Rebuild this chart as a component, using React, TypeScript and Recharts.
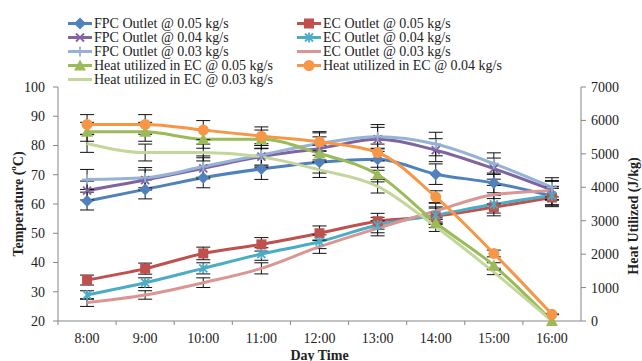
import React from "react";
import { LineChart, Line, XAxis, YAxis, ErrorBar } from "recharts";

const times = ["8:00", "9:00", "10:00", "11:00", "12:00", "13:00", "14:00", "15:00", "16:00"];

// temperatures (°C), left axis
const fpc05 = [61, 65, 69, 72, 74.3, 75.3, 70.2, 67.2, 62.7];
const fpc04 = [64.6, 68.2, 72.2, 76.2, 79, 82.1, 78.4, 72.1, 64.8];
const fpc03 = [68.4, 69, 72.8, 76.8, 80.7, 83, 80.5, 73.8, 65.7];
const ec05 = [34, 37.9, 43.1, 46.2, 50, 54.1, 55.8, 58.9, 62.2];
const ec04 = [28.9, 33.1, 38, 42.9, 47.1, 52.8, 56.2, 59.9, 62.9];
const ec03 = [26.3, 28.9, 33.1, 38, 45.4, 51.7, 57.6, 63.2, 64.5];

// heat utilized (J/kg), right axis
const heat05 = [5660, 5660, 5440, 5440, 5010, 4380, 2940, 1660, 0];
const heat04 = [5880, 5880, 5710, 5530, 5360, 5040, 3710, 2020, 200];
const heat03 = [5310, 5040, 5040, 4910, 4520, 4030, 2820, 1460, 0];

const tempTicks = [20, 30, 40, 50, 60, 70, 80, 90, 100];
const heatTicks = [0, 1000, 2000, 3000, 4000, 5000, 6000, 7000];

const ERR_PCT = 0.05;

type Shape = "diamond" | "square" | "x" | "star" | "plus" | "none" | "triangle" | "circle";

const series: { key: string; name: string; values: number[]; color: string; shape: Shape; axis: string }[] = [
  { key: "fpc05", name: "FPC Outlet @ 0.05 kg/s", values: fpc05, color: "#4F81BD", shape: "diamond", axis: "t" },
  { key: "ec05", name: "EC Outlet @ 0.05 kg/s", values: ec05, color: "#C0504D", shape: "square", axis: "t" },
  { key: "fpc04", name: "FPC Outlet @ 0.04 kg/s", values: fpc04, color: "#8064A2", shape: "x", axis: "t" },
  { key: "ec04", name: "EC Outlet @ 0.04 kg/s", values: ec04, color: "#4BACC6", shape: "star", axis: "t" },
  { key: "fpc03", name: "FPC Outlet @ 0.03 kg/s", values: fpc03, color: "#95B3D7", shape: "plus", axis: "t" },
  { key: "ec03", name: "EC Outlet @ 0.03 kg/s", values: ec03, color: "#D99694", shape: "none", axis: "t" },
  { key: "heat05", name: "Heat utilized in EC @ 0.05 kg/s", values: heat05, color: "#9BBB59", shape: "triangle", axis: "h" },
  { key: "heat04", name: "Heat utilized in EC @ 0.04 kg/s", values: heat04, color: "#F79646", shape: "circle", axis: "h" },
  { key: "heat03", name: "Heat utilized in EC @ 0.03 kg/s", values: heat03, color: "#C3D69B", shape: "none", axis: "h" },
];

const data = times.map((t, i) => {
  const row: Record<string, string | number> = { time: t };
  series.forEach((s) => {
    row[s.key] = s.values[i];
    row[s.key + "Err"] = s.values[i] * ERR_PCT;
  });
  return row;
});

const FONT = "'Liberation Serif', 'Times New Roman', serif";
const AXIS = "#868686";

function Marker({ shape, color, cx, cy }: { shape: Shape; color: string; cx: number; cy: number }) {
  switch (shape) {
    case "diamond":
      return <polygon points={`${cx},${cy - 6} ${cx + 6},${cy} ${cx},${cy + 6} ${cx - 6},${cy}`} fill={color} />;
    case "square":
      return <rect x={cx - 5} y={cy - 5} width={10} height={10} fill={color} />;
    case "triangle":
      return <polygon points={`${cx},${cy - 6} ${cx + 6},${cy + 5} ${cx - 6},${cy + 5}`} fill={color} />;
    case "circle":
      return <circle cx={cx} cy={cy} r={5.5} fill={color} />;
    case "x":
      return (
        <g stroke={color} strokeWidth={1.8}>
          <line x1={cx - 4} y1={cy - 4} x2={cx + 4} y2={cy + 4} />
          <line x1={cx - 4} y1={cy + 4} x2={cx + 4} y2={cy - 4} />
        </g>
      );
    case "star":
      return (
        <g stroke={color} strokeWidth={1.8}>
          <line x1={cx - 4} y1={cy - 4} x2={cx + 4} y2={cy + 4} />
          <line x1={cx - 4} y1={cy + 4} x2={cx + 4} y2={cy - 4} />
          <line x1={cx} y1={cy - 5} x2={cx} y2={cy + 5} />
        </g>
      );
    case "plus":
      return (
        <g stroke={color} strokeWidth={1.8}>
          <line x1={cx - 5} y1={cy} x2={cx + 5} y2={cy} />
          <line x1={cx} y1={cy - 5} x2={cx} y2={cy + 5} />
        </g>
      );
    default:
      return null;
  }
}

function makeDot(shape: Shape, color: string) {
  return (props: { cx?: number; cy?: number; index?: number }) => {
    const { cx, cy, index } = props;
    if (cx == null || cy == null || shape === "none") return <g key={index} />;
    return (
      <g key={index}>
        <Marker shape={shape} color={color} cx={cx} cy={cy} />
      </g>
    );
  };
}

function XTick(props: { x?: number; y?: number; payload?: { value: string; offset?: number } }) {
  const { x = 0, y = 0, payload } = props;
  const half = payload?.offset ?? 0;
  return (
    <g>
      <line x1={x - half} y1={y} x2={x - half} y2={y + 4} stroke={AXIS} />
      <text x={x} y={y + 17} textAnchor="middle" dominantBaseline="central" fontFamily={FONT} fontSize={14} fill="#222">
        {payload?.value}
      </text>
    </g>
  );
}

function LeftTitle(props: { viewBox?: { x: number; y: number; width: number; height: number } }) {
  const vb = props.viewBox!;
  const cx = vb.x + 18;
  const cy = vb.y + vb.height / 2;
  return (
    <text
      x={cx}
      y={cy}
      transform={`rotate(-90 ${cx} ${cy})`}
      textAnchor="middle"
      dominantBaseline="central"
      fontFamily={FONT}
      fontSize={14}
      fontWeight="bold"
      fill="#222"
    >
      Temperature (
      <tspan baselineShift="super" fontSize={9}>o</tspan>
      <tspan>C)</tspan>
    </text>
  );
}

function RightTitle(props: { viewBox?: { x: number; y: number; width: number; height: number } }) {
  const vb = props.viewBox!;
  const cx = vb.x + 52;
  const cy = vb.y + vb.height / 2 + 12;
  return (
    <text
      x={cx}
      y={cy}
      transform={`rotate(-90 ${cx} ${cy})`}
      textAnchor="middle"
      dominantBaseline="central"
      fontFamily={FONT}
      fontSize={14}
      fontWeight="bold"
      fill="#222"
    >
      Heat Utilized (J/kg)
    </text>
  );
}

function BottomTitle(props: { viewBox?: { x: number; y: number; width: number; height: number } }) {
  const vb = props.viewBox!;
  return (
    <text
      x={vb.x + vb.width / 2}
      y={vb.y + 34}
      textAnchor="middle"
      dominantBaseline="central"
      fontFamily={FONT}
      fontSize={14}
      fontWeight="bold"
      fill="#222"
    >
      Day Time
    </text>
  );
}

function LegendBox() {
  return (
    <div style={{ position: "absolute", left: 0, top: 0, fontFamily: FONT, fontSize: 14, color: "#222" }}>
      {series.map((s, i) => {
        const col = i % 2;
        const row = Math.floor(i / 2);
        return (
          <div
            key={s.key}
            style={{
              position: "absolute",
              left: col === 0 ? 68 : 297,
              top: 15.5 + row * 14.1,
              height: 15,
              lineHeight: "15px",
              whiteSpace: "nowrap",
              display: "flex",
              alignItems: "center",
            }}
          >
            <svg width={25} height={15} style={{ display: "block" }}>
              <line x1={0} y1={7.5} x2={24} y2={7.5} stroke={s.color} strokeWidth={3} />
              <Marker shape={s.shape} color={s.color} cx={12} cy={7.5} />
            </svg>
            <span style={{ marginLeft: 1 }}>{s.name}</span>
          </div>
        );
      })}
    </div>
  );
}

export default function App() {
  return (
    <div style={{ position: "absolute", left: 0, top: 0, width: 642, height: 361, background: "#fff" }}>
      <LineChart width={642} height={361} data={data} margin={{ top: 87, right: 0, bottom: 10, left: 0 }}>
        <XAxis
          dataKey="time"
          scale="band"
          height={30}
          stroke={AXIS}
          tickLine={false}
          tickSize={0}
          tickMargin={0}
          tick={<XTick />}
          interval={0}
          label={<BottomTitle />}
        />
        <YAxis
          yAxisId="t"
          orientation="left"
          width={58}
          domain={[20, 100]}
          ticks={tempTicks}
          stroke={AXIS}
          tickSize={5}
          tickMargin={8}
          tick={{ fill: "#222", fontFamily: FONT, fontSize: 14 }}
          label={<LeftTitle />}
        />
        <YAxis
          yAxisId="h"
          orientation="right"
          width={61}
          domain={[0, 7000]}
          ticks={heatTicks}
          stroke={AXIS}
          tickSize={5}
          tickMargin={5}
          tick={{ fill: "#222", fontFamily: FONT, fontSize: 14 }}
          label={<RightTitle />}
        />
        {series.map((s) => (
          <Line
            key={s.key}
            yAxisId={s.axis}
            type="monotone"
            dataKey={s.key}
            name={s.name}
            stroke={s.color}
            strokeWidth={3}
            dot={makeDot(s.shape, s.color)}
            activeDot={false}
            isAnimationActive={false}
          >
            <ErrorBar dataKey={s.key + "Err"} width={7} stroke="#111" strokeWidth={1} direction="y" />
          </Line>
        ))}
      </LineChart>
      <LegendBox />
    </div>
  );
}
